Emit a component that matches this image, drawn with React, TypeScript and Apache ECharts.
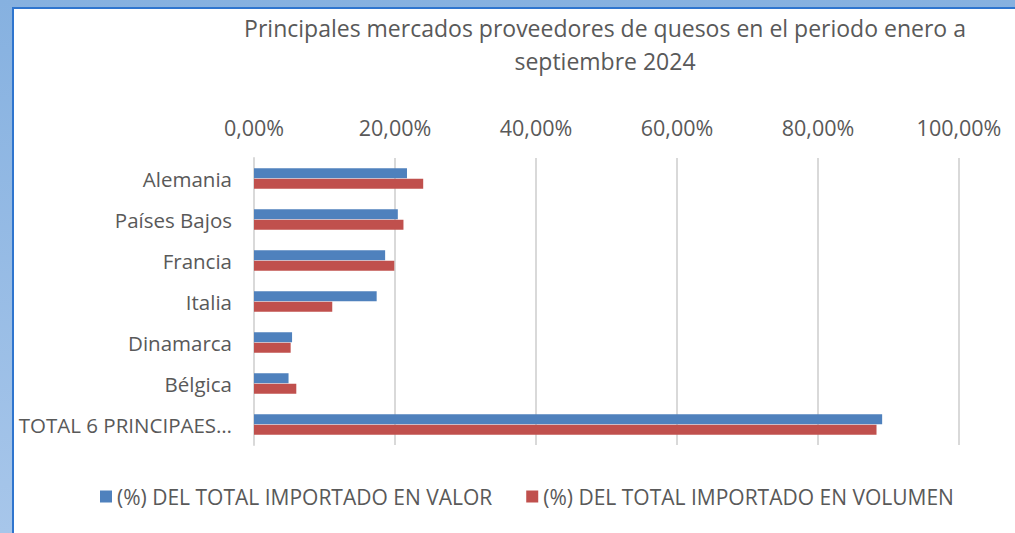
import React, { useEffect, useRef } from "react";
import * as echarts from "echarts";

const categories = [
  "Alemania",
  "Países Bajos",
  "Francia",
  "Italia",
  "Dinamarca",
  "Bélgica",
  "TOTAL 6 PRINCIPAES…",
];
const valorPct = [0.217, 0.204, 0.186, 0.174, 0.054, 0.049, 0.891];
const volumenPct = [0.24, 0.212, 0.199, 0.111, 0.052, 0.06, 0.883];
const seriesNames = [
  "(%) DEL TOTAL IMPORTADO EN VALOR",
  "(%) DEL TOTAL IMPORTADO EN VOLUMEN",
];
const titleText =
  "Principales mercados proveedores de quesos en el periodo enero a\nseptiembre 2024";

const FONT = "'Open Sans', 'Noto Sans', sans-serif";
const GREY = "#595959";

export default function App() {
  const ref = useRef<HTMLDivElement>(null);
  useEffect(() => {
    if (!ref.current) return;
    const chart = echarts.init(ref.current, null, { renderer: "svg" });
    chart.setOption({
      animation: false,
      textStyle: { fontFamily: FONT },
      title: {
        text: titleText,
        left: 600,
        top: 6,
        textAlign: "center",
        textStyle: {
          fontFamily: FONT,
          fontSize: 23,
          fontWeight: "normal",
          color: GREY,
          lineHeight: 33,
        },
      },
      legend: {
        bottom: 21,
        left: 95,
        itemWidth: 12,
        itemHeight: 12,
        itemGap: 34,
        icon: "rect",
        textStyle: { fontFamily: FONT, fontSize: 21, color: GREY },
        data: seriesNames,
      },
      grid: { left: 254, right: 56, top: 158, bottom: 88 },
      xAxis: {
        type: "value",
        position: "top",
        min: 0,
        max: 1,
        interval: 0.2,
        axisLine: { show: false },
        axisTick: { show: false },
        splitLine: { lineStyle: { color: "#D9D9D9", width: 2 } },
        axisLabel: {
          fontFamily: FONT,
          fontSize: 21.5,
          color: GREY,
          margin: 20,
          formatter: (v: number) => (v * 100).toFixed(2).replace(".", ",") + "%",
        },
      },
      yAxis: {
        type: "category",
        inverse: true,
        data: categories,
        axisLine: { show: true, lineStyle: { color: "#D9D9D9", width: 2 } },
        axisTick: { show: false },
        axisLabel: { fontFamily: FONT, fontSize: 20.5, color: GREY, margin: 22 },
      },
      series: [
        {
          name: seriesNames[0],
          type: "bar",
          data: valorPct,
          barWidth: 10,
          barGap: "5%",
          itemStyle: { color: "#4F81BD" },
        },
        {
          name: seriesNames[1],
          type: "bar",
          data: volumenPct,
          barWidth: 10,
          barGap: "5%",
          itemStyle: { color: "#C0504D" },
        },
      ],
    });
    return () => chart.dispose();
  }, []);

  return (
    <div
      style={{
        position: "fixed",
        left: 0,
        top: 0,
        width: 1015,
        height: 533,
        background: "linear-gradient(180deg, #86B1E0 0%, #A7C6EA 100%)",
        overflow: "hidden",
      }}
    >
      <div
        style={{
          position: "absolute",
          left: 12,
          top: 7,
          right: 0,
          bottom: 0,
          background: "#fff",
          borderLeft: "2px solid #2F75CE",
          borderTop: "2px solid #2F75CE",
        }}
      />
      <div
        ref={ref}
        style={{ position: "absolute", left: 0, top: 0, width: 1015, height: 533 }}
      />
    </div>
  );
}
